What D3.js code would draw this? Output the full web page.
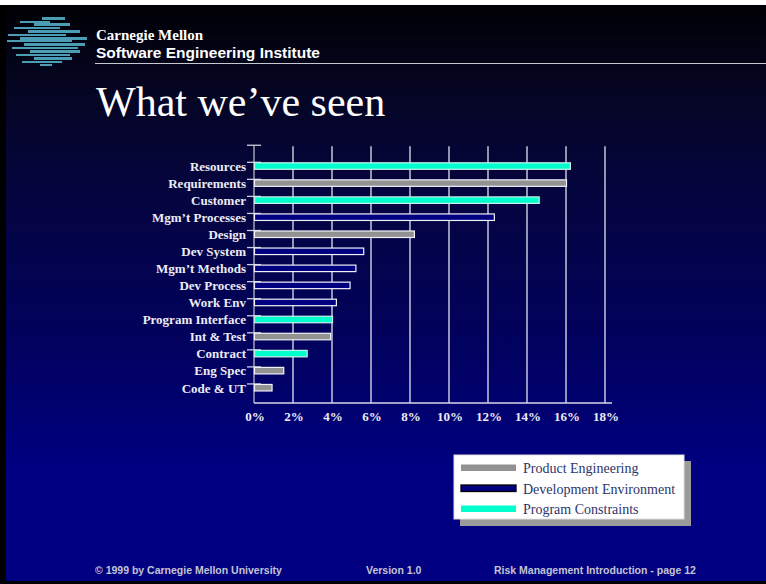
<!DOCTYPE html>
<html>
<head>
<meta charset="utf-8">
<script src="https://cdn.jsdelivr.net/npm/d3@7"></script>
<style>
  body { margin: 0; background: #fff; }
  svg { display: block; }
</style>
</head>
<body>
<div id="dv"></div>
<script>
// chart data
var categories = ["Resources", "Requirements", "Customer", "Mgm\u2019t Processes", "Design",
  "Dev System", "Mgm\u2019t Methods", "Dev Process", "Work Env", "Program Interface",
  "Int & Test", "Contract", "Eng Spec", "Code & UT"];
var values = [16.2, 16.0, 14.6, 12.3, 8.2, 5.6, 5.2, 4.9, 4.2, 4.0, 3.9, 2.7, 1.5, 0.9];
var groups = ["Program Constraints", "Product Engineering", "Program Constraints", "Development Environment",
  "Product Engineering", "Development Environment", "Development Environment", "Development Environment",
  "Development Environment", "Program Constraints", "Product Engineering", "Program Constraints",
  "Product Engineering", "Product Engineering"];
var series = ["Product Engineering", "Development Environment", "Program Constraints"];
var xTicks = [0, 2, 4, 6, 8, 10, 12, 14, 16, 18];

var W = 766, H = 584;
var serif = "'Liberation Serif', 'DejaVu Serif', serif";
var sans = "'Liberation Sans', Arial, sans-serif";

var svg = d3.select("div#dv").append("svg")
  .attr("width", W)
  .attr("height", H);

// background
var defs = svg.append("defs");
var grad = defs.append("linearGradient")
  .attr("id", "bg")
  .attr("x1", 0).attr("y1", 0).attr("x2", 0).attr("y2", 1);
grad.append("stop").attr("offset", "0%").attr("stop-color", "#000004");
grad.append("stop").attr("offset", "12%").attr("stop-color", "#05051e");
grad.append("stop").attr("offset", "30%").attr("stop-color", "#05053c");
grad.append("stop").attr("offset", "60%").attr("stop-color", "#010160");
grad.append("stop").attr("offset", "80%").attr("stop-color", "#000080");
grad.append("stop").attr("offset", "100%").attr("stop-color", "#000080");

svg.append("rect").attr("x", 0).attr("y", 5).attr("width", W).attr("height", H - 5).attr("fill", "#000");
svg.append("rect").attr("x", 6).attr("y", 5).attr("width", W - 6).attr("height", 576).attr("fill", "url(#bg)");

// logo stripes
var logo = [
  [17, 42, 65, 3], [21, 20, 50, 2], [23, 34, 70, 3], [27, 14, 60, 2], [30, 28, 80, 3],
  [34, 8, 66, 2], [37, 20, 87, 3], [40, 7, 72, 2], [43, 24, 85, 3], [47, 12, 78, 2],
  [50, 30, 80, 3], [54, 16, 70, 2], [57, 34, 72, 3], [61, 22, 62, 2], [64, 40, 52, 2]
];
svg.append("g").selectAll("rect")
  .data(logo)
  .enter()
  .append("rect")
  .attr("x", function(d) { return d[1]; })
  .attr("y", function(d) { return d[0]; })
  .attr("width", function(d) { return d[2] - d[1]; })
  .attr("height", function(d) { return d[3]; })
  .attr("fill", "#4b9db3");

// header
svg.append("text")
  .attr("x", 96).attr("y", 40)
  .style("font-family", serif).style("font-weight", "bold").style("font-size", "15px")
  .attr("fill", "#fff")
  .text("Carnegie Mellon");
svg.append("text")
  .attr("x", 96).attr("y", 58)
  .style("font-family", sans).style("font-weight", "bold").style("font-size", "15.5px")
  .attr("fill", "#fff")
  .text("Software Engineering Institute");
svg.append("line")
  .attr("x1", 95).attr("x2", W).attr("y1", 63.5).attr("y2", 63.5)
  .attr("stroke", "#c8c8d0").attr("stroke-width", 1.2);

// title
svg.append("text")
  .attr("x", 96).attr("y", 116)
  .style("font-family", serif).style("font-size", "42px")
  .attr("fill", "#fff")
  .text("What we\u2019ve seen");

// scales
var x = d3.scaleLinear().domain([0, 18]).range([254, 605]);
var y = d3.scaleBand().domain(categories).range([162.3, 401]);
var color = d3.scaleOrdinal().domain(series).range(["#929292", "#000080", "#00ffcc"]);
var yTop = y.range()[0] - y.step();
var yBottom = 403;

// gridlines
svg.append("g").selectAll("line")
  .data(xTicks.slice(1))
  .enter()
  .append("line")
  .attr("x1", function(d) { return x(d); })
  .attr("x2", function(d) { return x(d); })
  .attr("y1", yTop + 1)
  .attr("y2", yBottom)
  .attr("stroke", "#e4e4f0")
  .attr("stroke-width", 1.3);

// axes
svg.append("line")
  .attr("x1", x(0)).attr("x2", x(0)).attr("y1", yTop).attr("y2", yBottom)
  .attr("stroke", "#b8b8c8").attr("stroke-width", 1.3);
svg.append("line")
  .attr("x1", x(0)).attr("x2", 612).attr("y1", yBottom).attr("y2", yBottom)
  .attr("stroke", "#d8d8e4").attr("stroke-width", 1.3);

var tickYs = [yTop].concat(categories.map(function(c) { return y(c); }));
svg.append("g").selectAll("line")
  .data(tickYs)
  .enter()
  .append("line")
  .attr("x1", 247).attr("x2", 261)
  .attr("y1", function(d) { return d; })
  .attr("y2", function(d) { return d; })
  .attr("stroke", "#d0d0dc").attr("stroke-width", 1.3);

// bars
svg.append("g").selectAll("rect")
  .data(categories)
  .enter()
  .append("rect")
  .attr("x", x(0) + 0.5)
  .attr("y", function(d) { return y(d) + 0.5; })
  .attr("width", function(d, i) { return x(values[i]) - x(0); })
  .attr("height", 6.5)
  .attr("fill", function(d, i) { return color(groups[i]); })
  .attr("stroke", function(d, i) { return groups[i] === "Program Constraints" ? "#c8f0ea" : "#f0f0f8"; })
  .attr("stroke-width", 1.2);

// category labels
svg.append("g").selectAll("text")
  .data(categories)
  .enter()
  .append("text")
  .attr("x", 246)
  .attr("y", function(d) { return y(d) + 4; })
  .attr("dy", "0.35em")
  .attr("text-anchor", "end")
  .style("font-family", serif).style("font-weight", "bold").style("font-size", "13px")
  .attr("fill", "#ececf4")
  .text(function(d) { return d; });

// x tick labels
svg.append("g").selectAll("text")
  .data(xTicks)
  .enter()
  .append("text")
  .attr("x", function(d) { return x(d) + 1; })
  .attr("y", 421)
  .attr("text-anchor", "middle")
  .style("font-family", serif).style("font-weight", "bold").style("font-size", "13px")
  .attr("fill", "#ececf4")
  .text(function(d) { return d + "%"; });

// legend
var lg = svg.append("g");
lg.append("rect").attr("x", 460).attr("y", 461).attr("width", 231).attr("height", 65).attr("fill", "#9a9a9a");
lg.append("rect").attr("x", 454).attr("y", 455).attr("width", 230).attr("height", 64)
  .attr("fill", "#fff").attr("stroke", "#e0e0e0");
var items = lg.selectAll("g.item")
  .data(series)
  .enter()
  .append("g")
  .attr("class", "item")
  .attr("transform", function(d, i) { return "translate(0," + (i * 20.5) + ")"; });
items.append("rect")
  .attr("x", 461).attr("y", 464.5)
  .attr("width", 55).attr("height", 6.5)
  .attr("fill", function(d) { return color(d); })
  .attr("stroke", function(d) { return d === "Development Environment" ? "#000" : "none"; })
  .attr("stroke-width", 1.3);
items.append("text")
  .attr("x", 523).attr("y", 473)
  .style("font-family", serif).style("font-size", "14px")
  .attr("fill", "#2c356c")
  .text(function(d) { return d; });

// footer
var foot = [
  { x: 95, text: "\u00a9 1999 by Carnegie Mellon University" },
  { x: 366, text: "Version 1.0" },
  { x: 494, text: "Risk Management Introduction - page 12" }
];
svg.append("g").selectAll("text")
  .data(foot)
  .enter()
  .append("text")
  .attr("x", function(d) { return d.x; })
  .attr("y", 574)
  .style("font-family", sans).style("font-weight", "bold").style("font-size", "10.5px")
  .attr("fill", "#c4c4d4")
  .text(function(d) { return d.text; });
</script>
</body>
</html>
